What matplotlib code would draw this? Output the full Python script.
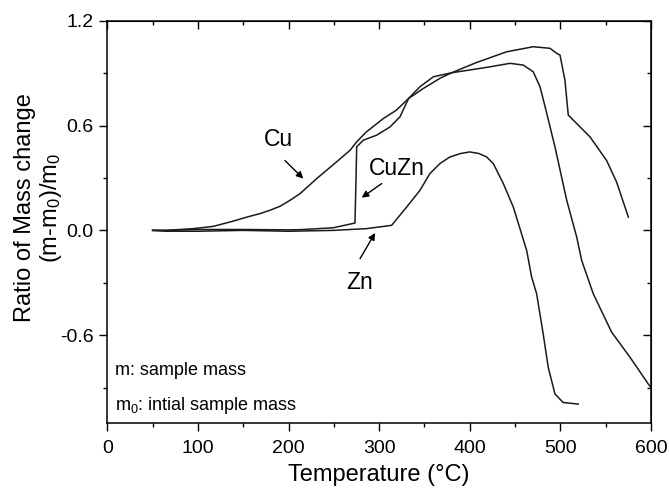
import numpy as np
import matplotlib
matplotlib.use("Agg")
import matplotlib.pyplot as plt
from matplotlib.ticker import MultipleLocator

plt.rcParams['font.family'] = ['Liberation Sans', 'DejaVu Sans']
plt.rcParams['mathtext.fontset'] = 'custom'
plt.rcParams['mathtext.rm'] = 'Liberation Sans'
plt.rcParams['mathtext.it'] = 'Liberation Sans'

# data
cu_T = [50, 65, 95, 117, 139, 154, 168.5, 179.5, 190.6, 201.6, 212.6, 231, 253, 268, 275,
        286, 304.6, 319, 332.5, 348.7, 367, 380, 407.6, 440.7, 470, 488.5, 496, 499.6,
        505, 508.7, 512.5, 532.7, 551, 562, 575]
cu_y = [0, 0, 0.01, 0.023, 0.053, 0.076, 0.096, 0.115, 0.138, 0.172, 0.21, 0.296, 0.392,
        0.459, 0.506, 0.564, 0.64, 0.688, 0.755, 0.812, 0.87, 0.902, 0.961, 1.022, 1.051,
        1.042, 1.013, 1.003, 0.86, 0.66, 0.64, 0.535, 0.40, 0.277, 0.076]

cuzn_T = [50, 65, 100, 150, 200, 212.6, 249.4, 273.3, 274.5, 275.2, 282.5, 297.3, 312,
          323, 332.5, 345, 359.8, 380, 404, 422.3, 444.4, 459, 470, 477.5, 485, 494, 507,
          518, 523.5, 536.3, 556.6, 576.8, 597, 600]
cuzn_y = [0, 0, 0.005, 0.005, 0.003, 0.004, 0.015, 0.042, 0.30, 0.478, 0.516, 0.545,
          0.592, 0.65, 0.755, 0.822, 0.879, 0.902, 0.921, 0.936, 0.956, 0.946, 0.908,
          0.822, 0.669, 0.478, 0.172, -0.038, -0.172, -0.363, -0.583, -0.726, -0.879, -0.90]

zn_T = [50, 65, 100, 150, 200, 250, 286, 313.8, 330.4, 345, 356, 367, 378, 390, 400, 410,
        418.7, 426, 437, 448, 455.4, 462.8, 468.3, 473.8, 481, 486.6, 494, 503, 519.7]
zn_y = [0, -0.005, -0.005, 0.0, -0.005, 0.0, 0.01, 0.029, 0.134, 0.229, 0.325, 0.382,
        0.42, 0.44, 0.449, 0.44, 0.42, 0.382, 0.268, 0.134, 0.01, -0.115, -0.268, -0.363,
        -0.592, -0.784, -0.936, -0.985, -0.994]

fig = plt.figure(figsize=(6.69, 4.88), dpi=100)
ax = fig.add_axes([0.1604, 0.1326, 0.8127, 0.825])

lc = '#1a1a1a'
ax.plot(cu_T, cu_y, color=lc, lw=1.1)
ax.plot(cuzn_T, cuzn_y, color=lc, lw=1.1)
ax.plot(zn_T, zn_y, color=lc, lw=1.1)

ax.set_xlim(0, 600)
ax.set_ylim(-1.104, 1.2)
ax.xaxis.set_major_locator(MultipleLocator(100))
ax.xaxis.set_minor_locator(MultipleLocator(50))
ax.set_yticks([-0.6, 0.0, 0.6, 1.2])
ax.yaxis.set_minor_locator(MultipleLocator(0.3))
ax.set_yticklabels(['-0.6', '0.0', '0.6', '1.2'])
ax.tick_params(which='major', direction='out', length=6, width=1.0, labelsize=14)
ax.tick_params(axis='x', which='major', pad=6)
ax.tick_params(axis='y', which='major', pad=4)
ax.tick_params(which='minor', direction='out', length=3, width=1.0)
for s in ax.spines.values():
    s.set_linewidth(1.1)

# mirrored ticks pointing inward on top and right
top = ax.secondary_xaxis('top')
top.xaxis.set_major_locator(MultipleLocator(100))
top.xaxis.set_minor_locator(MultipleLocator(50))
top.tick_params(which='major', direction='in', length=6, width=1.0, labeltop=False)
top.tick_params(which='minor', direction='in', length=3, width=1.0)
right = ax.secondary_yaxis('right')
right.set_yticks([-0.6, 0.0, 0.6, 1.2])
right.yaxis.set_minor_locator(MultipleLocator(0.3))
right.tick_params(which='major', direction='in', length=6, width=1.0, labelright=False)
right.tick_params(which='minor', direction='in', length=3, width=1.0)

ax.set_xlabel('Temperature (°C)', fontsize=17, labelpad=5)
fig.text(0.058, 0.574, 'Ratio of Mass change\n(m-m$_0$)/m$_0$', rotation=90,
         ha='center', va='center', fontsize=17, multialignment='center', linespacing=1.1)

arr = dict(arrowstyle='-|>', color='black', lw=1.0, mutation_scale=10, shrinkA=0, shrinkB=0)
ax.text(188.7, 0.52, 'Cu', fontsize=16.5, ha='center', va='center')
ax.annotate('', xy=(216.3, 0.296), xytext=(196, 0.40), arrowprops=arr)
ax.text(319.4, 0.354, 'CuZn', fontsize=16.5, ha='center', va='center')
ax.annotate('', xy=(280.7, 0.187), xytext=(302.8, 0.268), arrowprops=arr)
ax.text(278.9, -0.296, 'Zn', fontsize=16.5, ha='center', va='center')
ax.annotate('', xy=(295.5, -0.015), xytext=(278.9, -0.162), arrowprops=arr)

ax.text(0.014, 0.12, 'm: sample mass', transform=ax.transAxes, fontsize=13, va='baseline')
ax.text(0.014, 0.033, 'm$_0$: intial sample mass', transform=ax.transAxes, fontsize=13,
        va='baseline')

fig.savefig('out.png', dpi=100)
